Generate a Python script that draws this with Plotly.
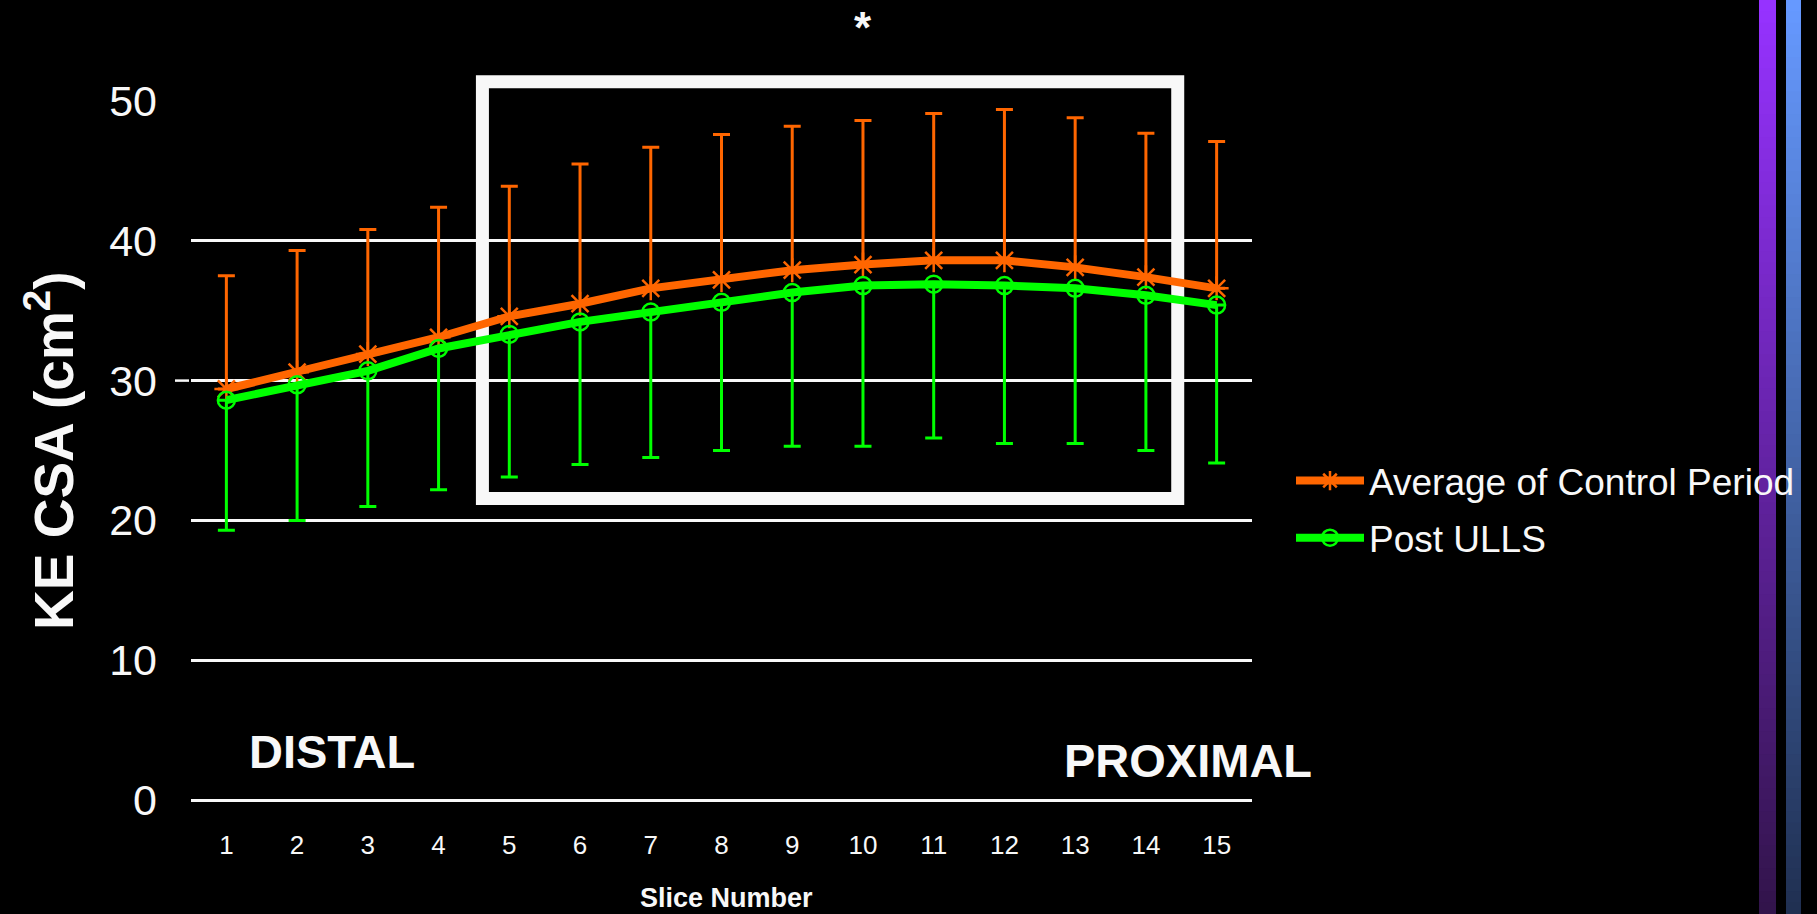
import plotly.graph_objects as go

# Knee-extensor cross-sectional area by MRI slice (cm^2)
slices = list(range(1, 16))
slice_labels = [str(s) for s in slices]

control_mean = [29.4, 30.6, 31.9, 33.1, 34.6, 35.5, 36.6, 37.2, 37.9, 38.3, 38.6, 38.6, 38.1, 37.4, 36.6]
control_sd = [8.1, 8.7, 8.9, 9.3, 9.3, 10.0, 10.1, 10.4, 10.3, 10.3, 10.5, 10.8, 10.7, 10.3, 10.5]

post_mean = [28.6, 29.7, 30.7, 32.3, 33.3, 34.2, 34.9, 35.6, 36.3, 36.8, 36.9, 36.8, 36.6, 36.1, 35.4]
post_sd = [9.3, 9.7, 9.7, 10.1, 10.2, 10.2, 10.4, 10.6, 11.0, 11.5, 11.0, 11.3, 11.1, 11.1, 11.3]

y_ticks = [0, 10, 20, 30, 40, 50]

ORANGE = "#FF6600"
GREEN = "#00FF00"
WHITE = "#F8F8F8"
FONT = "Liberation Sans, Arial, sans-serif"

W, H = 1817, 914
ML, MR, MT, MB = 191, 565, 101, 114
PW, PH = W - ML - MR, H - MT - MB
X_RANGE = [0.5, 15.5]
Y_RANGE = [0, 50]


def px_x(px):
    return (px - ML) / PW


def px_y(py):
    return (H - MB - py) / PH


def data_x(v):
    return (v - X_RANGE[0]) / (X_RANGE[1] - X_RANGE[0])


def data_y(v):
    return (v - Y_RANGE[0]) / (Y_RANGE[1] - Y_RANGE[0])


fig = go.Figure()

fig.add_trace(go.Scatter(
    x=slices, y=control_mean, name="Average of Control Period",
    mode="lines+markers", legendgroup="a",
    line=dict(color=ORANGE, width=8),
    marker=dict(symbol="asterisk-open", size=20, color=ORANGE,
                line=dict(color=ORANGE, width=2.5)),
    error_y=dict(type="data", array=control_sd, arrayminus=[0] * len(slices),
                 color=ORANGE, thickness=3, width=8.5),
))

fig.add_trace(go.Scatter(
    x=slices, y=post_mean, name="Post ULLS",
    mode="lines+markers", legendgroup="b",
    line=dict(color=GREEN, width=8),
    marker=dict(symbol="circle-open", size=17, color=GREEN,
                line=dict(color=GREEN, width=2.5)),
    error_y=dict(type="data", array=[0] * len(slices), arrayminus=post_sd,
                 color=GREEN, thickness=3, width=8.5),
))

shapes = []

# highlighted region of slices (paper refs so the frame is not clipped)
shapes.append(dict(type="rect", xref="paper", yref="paper", layer="between",
                   x0=data_x(4.62), x1=data_x(14.45),
                   y0=data_y(21.57), y1=data_y(51.38),
                   line=dict(color=WHITE, width=13), fillcolor="rgba(0,0,0,0)"))

# short tick left of the axis at 30
shapes.append(dict(type="line", xref="paper", yref="y",
                   x0=px_x(175), x1=px_x(189), y0=30, y1=30,
                   line=dict(color=WHITE, width=2.5)))


# vertical gradient bars along the right edge, bright at the top
def gradient_bar(x0, x1, top, bottom, n=80):
    out = []
    step = H / n
    for i in range(n):
        t = i / (n - 1)
        c = tuple(round(top[k] + (bottom[k] - top[k]) * t) for k in range(3))
        ytop = i * step
        ybot = min(H, (i + 1) * step + 1)
        out.append(dict(type="rect", xref="paper", yref="paper", layer="above",
                        x0=px_x(x0), x1=px_x(x1), y0=px_y(ybot), y1=px_y(ytop),
                        line=dict(width=0), fillcolor="rgb(%d,%d,%d)" % c))
    return out


shapes += gradient_bar(1759, 1776, (150, 50, 255), (50, 20, 75))
shapes += gradient_bar(1786, 1801, (102, 153, 255), (32, 48, 82))

annotations = [
    dict(text="<b>KE CSA (cm<sup>2</sup>)</b>", textangle=-90,
         xref="paper", yref="paper", x=px_x(50), y=px_y(451),
         xanchor="center", yanchor="middle", showarrow=False,
         font=dict(family=FONT, size=55, color=WHITE)),
    dict(text="<b>Slice Number</b>", xref="paper", yref="paper",
         x=px_x(726), y=px_y(898), xanchor="center", yanchor="middle",
         showarrow=False, font=dict(family=FONT, size=27, color=WHITE)),
    dict(text="<b>DISTAL</b>", xref="paper", yref="paper",
         x=px_x(332), y=px_y(751), xanchor="center", yanchor="middle",
         showarrow=False, font=dict(family=FONT, size=47, color=WHITE)),
    dict(text="<b>PROXIMAL</b>", xref="paper", yref="paper",
         x=px_x(1188), y=px_y(760), xanchor="center", yanchor="middle",
         showarrow=False, font=dict(family=FONT, size=47, color=WHITE)),
    dict(text="<b>*</b>", xref="x", yref="paper",
         x=10, y=px_y(28), xanchor="center", yanchor="middle",
         showarrow=False, font=dict(family=FONT, size=44, color=WHITE)),
]

fig.update_layout(
    width=W, height=H,
    margin=dict(l=ML, r=MR, t=MT, b=MB, autoexpand=False),
    paper_bgcolor="black", plot_bgcolor="black",
    font=dict(family=FONT, color=WHITE),
    showlegend=True,
    legend=dict(x=px_x(1291), y=px_y(450), xanchor="left", yanchor="top",
                bgcolor="rgba(0,0,0,0)", borderwidth=0,
                font=dict(family=FONT, size=37, color=WHITE),
                itemwidth=68, tracegroupgap=6),
    shapes=shapes,
    annotations=annotations,
)

fig.update_xaxes(
    range=X_RANGE, tickmode="array", tickvals=slices, ticktext=slice_labels,
    showgrid=False, zeroline=False, showline=False, ticks="",
    tickfont=dict(family=FONT, size=26, color=WHITE), ticklabelstandoff=27,
)
fig.update_yaxes(
    range=Y_RANGE, tickmode="array", tickvals=y_ticks,
    showgrid=True, gridcolor=WHITE, gridwidth=2.5,
    zeroline=True, zerolinecolor=WHITE, zerolinewidth=2.5, showline=False, ticks="",
    tickfont=dict(family=FONT, size=43, color=WHITE), ticklabelstandoff=33,
)

fig.write_html("out.html")
